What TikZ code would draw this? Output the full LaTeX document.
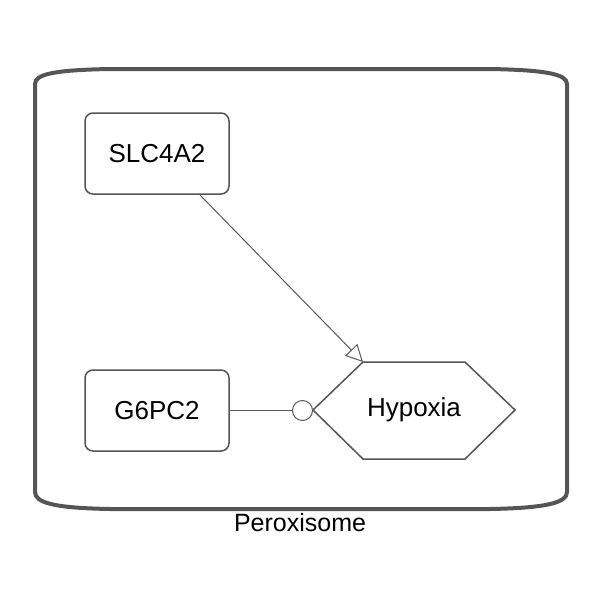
\documentclass[tikz,border=0pt]{standalone}
\usepackage{fontspec}
\setmainfont{Liberation Sans}
\usetikzlibrary{arrows.meta}
\definecolor{edgegray}{HTML}{555555}
\definecolor{linegray}{HTML}{595959}
\tikzset{
  genebox/.style={draw=edgegray, line width=1.5pt, rounded corners=8pt, minimum width=144pt, minimum height=81pt, inner sep=0pt, font=\fontsize{26}{30}\selectfont},
  conn/.style={draw=linegray, line width=1pt},
}
\begin{document}
\begin{tikzpicture}[x=1pt,y=-1pt]
\useasboundingbox (0,0) rectangle (600,600);
% compartment
\draw[edgegray, line width=4pt]
  (35,84) .. controls (35,74) and (55,70) .. (110,69) -- (490,69)
  .. controls (545,70) and (567,74) .. (567,84) -- (567,492)
  .. controls (567,503) and (545,508) .. (490,509) -- (110,509)
  .. controls (55,508) and (35,503) .. (35,492) -- cycle;
\node[font=\fontsize{25}{29}\selectfont, anchor=center] (lbl) at (300,523) {Peroxisome};
% nodes
\node[genebox] (slc) at (157,153.5) {SLC4A2};
\node[genebox] (g6p) at (157,410.5) {G6PC2};
\draw[edgegray, line width=1.5pt, fill=white] (313,410) -- (363,362) -- (465,362) -- (515,410) -- (465,459) -- (363,459) -- cycle;
\node[font=\fontsize{26}{30}\selectfont] (hyp) at (414,410) {Hypoxia};
\coordinate (hyptl) at (363,362);
\coordinate (slcout) at (200,195);
\coordinate (circ) at (302.5,410.5);
% connectors
\draw[conn, -{Triangle[open, length=17pt, width=17pt, fill=white]}] (slcout) -- (hyptl);
\draw[conn] (g6p.east) -- (circ);
\draw[linegray, line width=1pt, fill=white] (circ) circle (10);
\end{tikzpicture}
\end{document}
